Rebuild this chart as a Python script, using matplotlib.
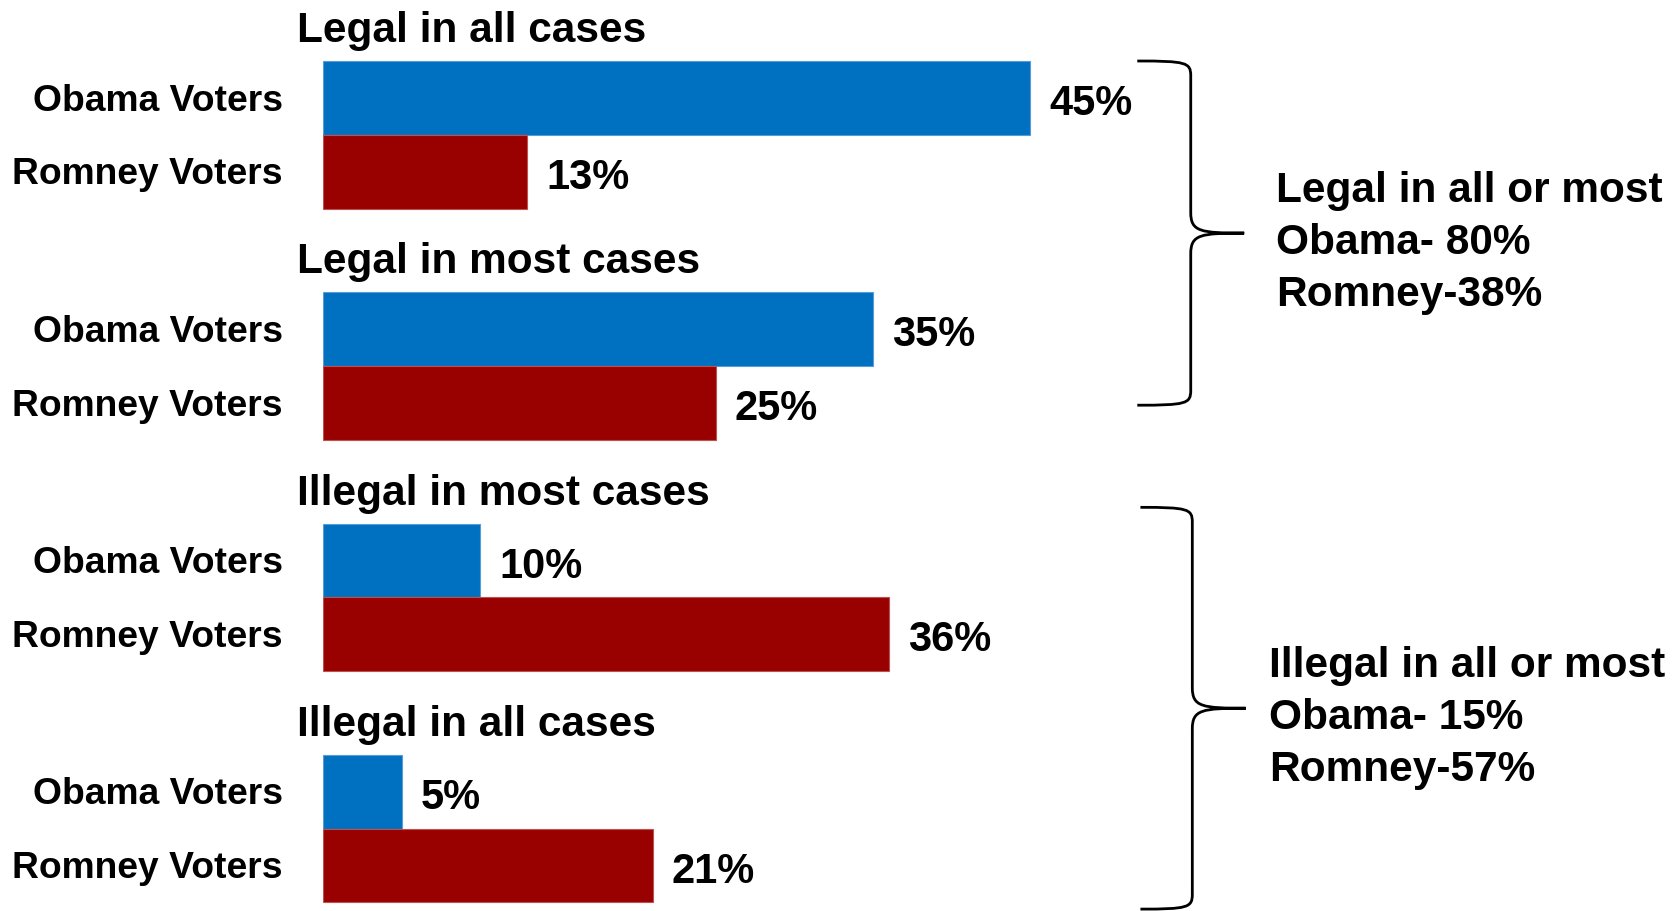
import numpy as np
import matplotlib
matplotlib.use("Agg")
import matplotlib.pyplot as plt
from matplotlib.path import Path
from matplotlib.patches import PathPatch

# data
groups = ["Legal in all cases", "Legal in most cases", "Illegal in most cases", "Illegal in all cases"]
voters = ["Obama Voters", "Romney Voters"]
obama = [45, 35, 10, 5]
romney = [13, 25, 36, 21]
summary_titles = ["Legal in all or most", "Illegal in all or most"]
summary_obama = [80, 15]
summary_romney = [38, 57]

blue = "#0070C0"
red = "#990000"
plt.rcParams["font.family"] = ["Liberation Sans", "DejaVu Sans"]
plt.rcParams["font.weight"] = "bold"

W, H = 1674, 912
fig = plt.figure(figsize=(W / 100, H / 100), dpi=100)
left_px = 323
px_per_pct = 15.72
bar_px = 73.8
ax = fig.add_axes([left_px / W, 0, 1 - left_px / W, 1])
ax.set_xlim(0, (W - left_px) / px_per_pct)
ax.set_ylim((H - 62) / bar_px, -62 / bar_px)
ax.axis("off")

step = 3.134
tops = np.arange(len(groups)) * step
y_ob = tops + 0.5
y_ro = tops + 1.5

ax.barh(y_ob, obama, height=1.0, color=blue, edgecolor="#5b9bd5", linewidth=0.8)
ax.barh(y_ro, romney, height=1.0, color=red, edgecolor="#c0504d", linewidth=0.8)

for i in range(len(groups)):
    ax.text(-1.65, tops[i] - 0.42, groups[i], ha="left", va="center", fontsize=30.5, fontweight="bold")
    ax.text(-2.55, y_ob[i] + 0.03, voters[0], ha="right", va="center", fontsize=26.8, fontweight="bold", clip_on=False)
    ax.text(-2.55, y_ro[i] + 0.03, voters[1], ha="right", va="center", fontsize=26.8, fontweight="bold", clip_on=False)
    ax.text(obama[i] + 1.2, y_ob[i] + 0.07, "%d%%" % obama[i], ha="left", va="center", fontsize=30, fontweight="bold")
    ax.text(romney[i] + 1.2, y_ro[i] + 0.07, "%d%%" % romney[i], ha="left", va="center", fontsize=30, fontweight="bold")


def brace(x_end, x_v, x_tip, y0, y1, r=0.2, rm=0.28):
    ym = (y0 + y1) / 2
    verts = [
        (x_end, y0), (x_v - 0.3, y0), (x_v, y0 + 0.02), (x_v, y0 + r),
        (x_v, ym - rm),
        (x_v, ym - 0.02), (x_v + 0.6, ym), (x_tip, ym),
        (x_v + 0.6, ym), (x_v, ym + 0.02), (x_v, ym + rm),
        (x_v, y1 - r),
        (x_v, y1 - 0.02), (x_v - 0.3, y1), (x_end, y1),
    ]
    codes = [Path.MOVETO, Path.CURVE4, Path.CURVE4, Path.CURVE4,
             Path.LINETO,
             Path.CURVE4, Path.CURVE4, Path.CURVE4,
             Path.CURVE4, Path.CURVE4, Path.CURVE4,
             Path.LINETO,
             Path.CURVE4, Path.CURVE4, Path.CURVE4]
    ax.add_patch(PathPatch(Path(verts, codes), fill=False, edgecolor="black", linewidth=2, clip_on=False))
    return ym


# upper brace: legal groups, lower brace: illegal groups
ym1 = brace(51.8, 55.2, 58.6, tops[0], y_ro[1] + 0.03)
ym2 = brace(52.0, 55.3, 58.7, tops[2] - 0.22, tops[3] + 2.09)

ax.text(60.6, ym1 + 0.12, "%s\nObama- %d%%\nRomney-%d%%" % (summary_titles[0], summary_obama[0], summary_romney[0]),
        ha="left", va="center", fontsize=30.5, fontweight="bold", linespacing=1.38)
ax.text(60.2, ym2 + 0.12, "%s\nObama- %d%%\nRomney-%d%%" % (summary_titles[1], summary_obama[1], summary_romney[1]),
        ha="left", va="center", fontsize=30.5, fontweight="bold", linespacing=1.38)

plt.savefig("out.png", dpi=100)
